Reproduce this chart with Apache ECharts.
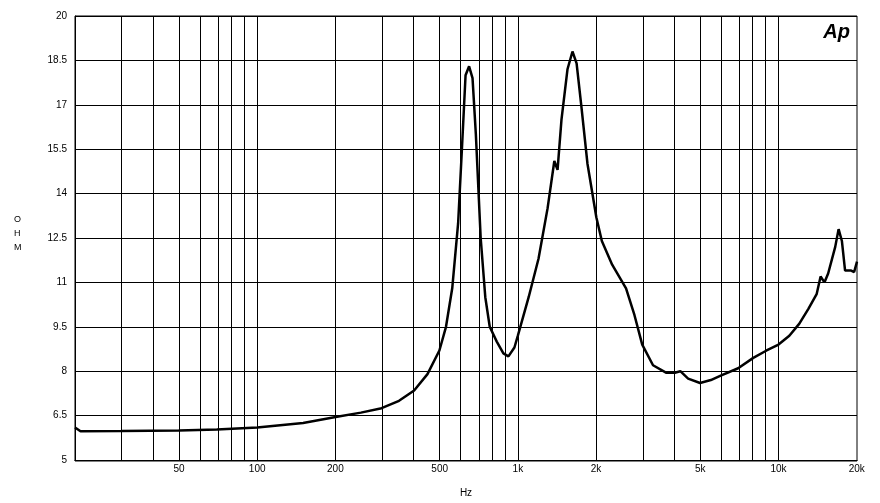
<!DOCTYPE html><html><head><meta charset="utf-8"><script src="https://cdn.jsdelivr.net/npm/echarts@6/dist/echarts.min.js"></script>
<style>html,body{margin:0;background:#fff}#c{width:880px;height:503px}</style></head><body><div id="c"></div><script>
const freqs=[20,21,30,50,70,100,150,200,250,300,350,400,450,500,530,560,590,610,630,650,670,690,720,750,780,830,880,920,970,1000,1100,1200,1300,1380,1420,1470,1550,1620,1680,1750,1850,2000,2100,2300,2600,2800,3000,3300,3700,4000,4200,4500,5000,5500,6000,7000,8000,9000,10000,11000,12000,13000,14000,14500,15000,15500,16500,17000,17500,18000,19000,19500,20000];
const ohms=[6.1,5.97,5.98,6.0,6.03,6.1,6.25,6.45,6.6,6.75,7.0,7.35,7.9,8.7,9.5,10.8,13,15.5,18.0,18.3,17.9,16,12.5,10.5,9.5,9.0,8.6,8.5,8.8,9.2,10.5,11.8,13.5,15.1,14.8,16.5,18.2,18.8,18.4,17.0,15.0,13.2,12.4,11.6,10.8,9.9,8.9,8.2,7.95,7.95,8.0,7.75,7.6,7.7,7.85,8.1,8.45,8.7,8.9,9.2,9.6,10.1,10.6,11.2,11.0,11.3,12.2,12.8,12.4,11.4,11.4,11.35,11.7];
const gridFreqs=[30,40,50,60,70,80,90,100,200,300,400,500,600,700,800,900,1000,2000,3000,4000,5000,6000,7000,8000,9000,10000];
const labelFreqs=[20,50,100,200,500,1000,2000,5000,10000,20000];
const labelText=['20','50','100','200','500','1k','2k','5k','10k','20k'];
const L=Math.log10;
const ml=gridFreqs.map(f=>({xAxis:L(f),label:{show:false}}));
const lb=labelFreqs.map((f,i)=>({xAxis:L(f),lineStyle:{color:'rgba(0,0,0,0)'},label:{show:true,position:'start',formatter:labelText[i],distance:4,color:'#000',fontSize:10,fontFamily:'Arial'}}));
const ch=echarts.init(document.getElementById('c'));
ch.setOption({animation:false,
grid:{left:75,right:23,top:16,bottom:42},
xAxis:{type:'value',min:L(20),max:L(20000),axisLabel:{show:false},axisTick:{show:false},splitLine:{show:false},axisLine:{lineStyle:{color:'#000'}},name:'Hz',nameLocation:'middle',nameGap:28,nameTextStyle:{fontSize:10,color:'#000'}},
yAxis:{type:'value',min:5,max:20,interval:1.5,axisLabel:{color:'#000',fontSize:10,fontFamily:'Arial',formatter:v=>+v.toFixed(1)},axisTick:{show:false},axisLine:{show:true,lineStyle:{color:'#000'}},splitLine:{lineStyle:{color:'#000',width:1}}},
graphic:[{type:'text',left:14,top:215,style:{text:'O\n\nH\n\nM',fontSize:9,fill:'#000',fontFamily:'Arial',lineHeight:7}},
{type:'text',right:30,top:22,style:{text:'Ap',fontSize:20,fontWeight:'bold',fontStyle:'italic',fill:'#000',fontFamily:'Arial'}},
{type:'rect',shape:{x:75,y:16,width:782,height:445},style:{fill:'none',stroke:'#000',lineWidth:1},z:10}],
series:[{type:'line',data:freqs.map((f,i)=>[L(f),ohms[i]]),showSymbol:false,lineStyle:{color:'#000',width:2.5},
markLine:{silent:true,symbol:'none',lineStyle:{color:'#000',width:1,type:'solid'},data:ml.concat(lb)}}]});
</script></body></html>
